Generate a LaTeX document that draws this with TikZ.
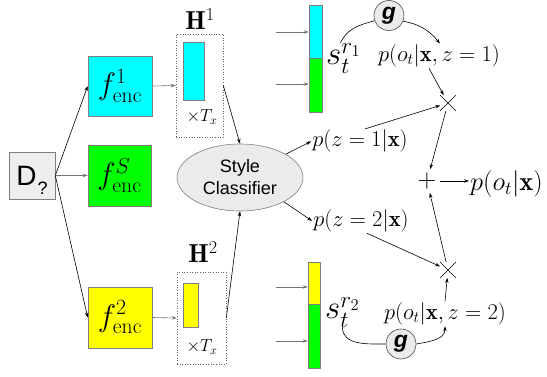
\RequirePackage{fix-cm}
\documentclass[tikz,border=0pt]{standalone}
\usepackage{fontspec}
\setsansfont{Liberation Sans}
\usetikzlibrary{arrows.meta,shapes.geometric,shapes.misc}
\definecolor{boxgray}{HTML}{7F7F7F}
\definecolor{lightfill}{HTML}{EBEBEB}
\definecolor{dfill}{HTML}{EEEEEE}
\definecolor{cyanf}{HTML}{00FFFF}
\definecolor{greenf}{HTML}{00FF00}
\definecolor{yellowf}{HTML}{FFFF00}
\newcommand\fsz[1]{\fontsize{#1}{#1}\selectfont}
\tikzset{
  arr/.style={-{Stealth[length=5pt,width=3.5pt]}, line width=0.6pt, draw=black},
  garr/.style={-{Stealth[length=5pt,width=3.5pt]}, line width=0.6pt, draw=black!55},
  dbox/.style={draw=boxgray, fill=dfill, line width=0.6pt, minimum width=46pt, minimum height=47pt, inner sep=0pt},
  encbox/.style={draw=boxgray, line width=0.6pt, minimum width=64pt, minimum height=60pt, inner sep=0pt, font=\fsz{31}},
  hbox/.style={draw=black!60, dotted, line width=0.6pt, inner sep=0pt},
  bar/.style={draw=boxgray, line width=0.6pt, inner sep=0pt},
  clsnode/.style={ellipse, draw=boxgray, fill=lightfill, line width=0.6pt, minimum width=126pt, minimum height=67pt, inner sep=0pt, align=center, font=\sffamily\fontsize{18}{22}\selectfont},
  gnode/.style={circle, draw=black!70, fill=lightfill, line width=0.6pt, minimum size=30pt, inner sep=0pt, font=\sffamily\bfseries\itshape\fsz{23}},
  plab/.style={anchor=base, inner sep=1pt, font=\fsz{22.5}},
  crossnode/.style={cross out, draw=black, line width=0.7pt, minimum size=15pt, inner sep=0pt},
}
\begin{document}
\begin{tikzpicture}
\useasboundingbox (0,-377pt) rectangle (547pt,0);
\begin{scope}[x=1pt,y=1pt]
% input
\node[dbox] (D) at (32,-175.5) {\raisebox{-10.5pt}[0pt][0pt]{\sffamily\fsz{28}D\kern1pt{\fsz{18}\raisebox{-8.7pt}{?}}}};
% encoders
\node[encbox, fill=cyanf] (f1) at (120,-86) {$f^1_{\mathrm{enc}}$};
\node[encbox, fill=greenf, minimum width=63pt, minimum height=61pt] (fs) at (119.5,-175.5) {$f^S_{\mathrm{enc}}$};
\node[encbox, fill=yellowf, minimum height=61pt] (f2) at (120,-317.5) {$f^2_{\mathrm{enc}}$};
% H1
\node[font=\fsz{26}] (h1lab) at (200,-19) {$\mathbf{H}^1$};
\node[hbox, minimum width=47pt, minimum height=103pt] (H1) at (199.5,-85.5) {};
\node[bar, fill=cyanf, minimum width=21pt, minimum height=58pt] (b1) at (193.5,-71) {};
\node[font=\fsz{17.5}, inner sep=0pt] (t1) at (202,-117) {$\times T_x$};
% H2
\node[font=\fsz{26}] (h2lab) at (203,-252) {$\mathbf{H}^2$};
\node[hbox, minimum width=49pt, minimum height=92pt] (H2) at (201.5,-318) {};
\node[bar, fill=yellowf, minimum width=15pt, minimum height=44pt] (b2) at (190.5,-305) {};
\node[font=\fsz{17.5}, inner sep=0pt] (t2) at (202,-347) {$\times T_x$};
% classifier
\node[clsnode] (cls) at (240,-177.5) {Style\\Classifier};
% right bars
\node[bar, fill=cyanf, minimum width=13pt, minimum height=53pt] (c1) at (315.5,-31.5) {};
\node[bar, fill=greenf, minimum width=13pt, minimum height=54pt] (gb1) at (315.5,-85) {};
\node[bar, fill=yellowf, minimum width=12pt, minimum height=42pt] (y2) at (314,-283) {};
\node[bar, fill=greenf, minimum width=12pt, minimum height=64pt] (gb2) at (314,-336) {};
\coordinate (in1) at (276,-32);
\coordinate (in2) at (276,-84);
\coordinate (in3) at (276,-287);
\coordinate (in4) at (276,-341);
% s labels
\node[anchor=base west, inner sep=0pt, font=\fsz{33}] (sr1) at (326,-65) {$s_t^{r_1}$};
\node[anchor=base west, inner sep=0pt, font=\fsz{33}] (sr2) at (325,-319) {$s_t^{r_2}$};
% g nodes
\node[gnode] (g1) at (389,-15.5) {g};
\node[gnode] (g2) at (401,-344) {g};
% probability labels
\node[plab] (po1) at (439,-61.5) {$p(o_t|\mathbf{x},z=1)$};
\node[plab] (pz1) at (360,-147) {$p(z=1|\mathbf{x})$};
\node[plab] (pz2) at (361,-226.5) {$p(z=2|\mathbf{x})$};
\node[plab] (po2) at (445,-319.5) {$p(o_t|\mathbf{x},z=2)$};
\node[plab, font=\fsz{26.5}] (pox) at (506.5,-190.5) {$p(o_t|\mathbf{x})$};
% operators
\node[crossnode] (x1) at (448,-103) {};
\node[crossnode] (x2) at (448,-270) {};
\node[font=\fsz{26}, inner sep=3.5pt] (plus) at (427,-181) {$+$};
% connectors
\draw[arr] (D.east) -- (f1.west);
\draw[garr] (D.east) -- (fs.west);
\draw[arr] (D.east) -- (f2.west);
\draw[garr] (f1.east) -- (H1.west);
\draw[garr] (f2.east) -- (H2.west);
\draw[arr] (H1.east) -- (cls.north);
\draw[arr] (H2.east) -- (cls.south);
\draw[garr] (in1) -- (in1 -| c1.west);
\draw[garr] (in2) -- (in2 -| gb1.west);
\draw[garr] (in3) -- (in3 -| y2.west);
\draw[garr] (in4) -- (in4 -| gb2.west);
\draw[arr] (cls.27.6) -- (pz1.west);
\draw[arr] (cls.-29.5) -- (pz2.west);
\draw[arr] ([xshift=5pt]pz1.north) -- (x1);
\draw[arr] ([xshift=-10pt]po1.south) -- (x1);
\draw[arr] (x1) -- (plus);
\draw[arr] (x2) -- (plus);
\draw[arr] ([xshift=6pt]pz2.south) -- (x2);
\draw[arr] (po2.north) -- (x2);
\draw[arr] (plus.east) -- (plus.east -| pox.west);
% g curves
\draw[line width=0.6pt] ([xshift=-3pt]sr1.north) to[out=65,in=195] (g1.200);
\draw[arr] (g1.-22) to[out=-10,in=130] ([xshift=1pt]po1.north);
\draw[line width=0.6pt] (sr2.south) to[out=-90,in=180] (g2.west);
\draw[arr] (g2.east) to[out=10,in=-90] (po2.south);
\end{scope}
\end{tikzpicture}
\end{document}
